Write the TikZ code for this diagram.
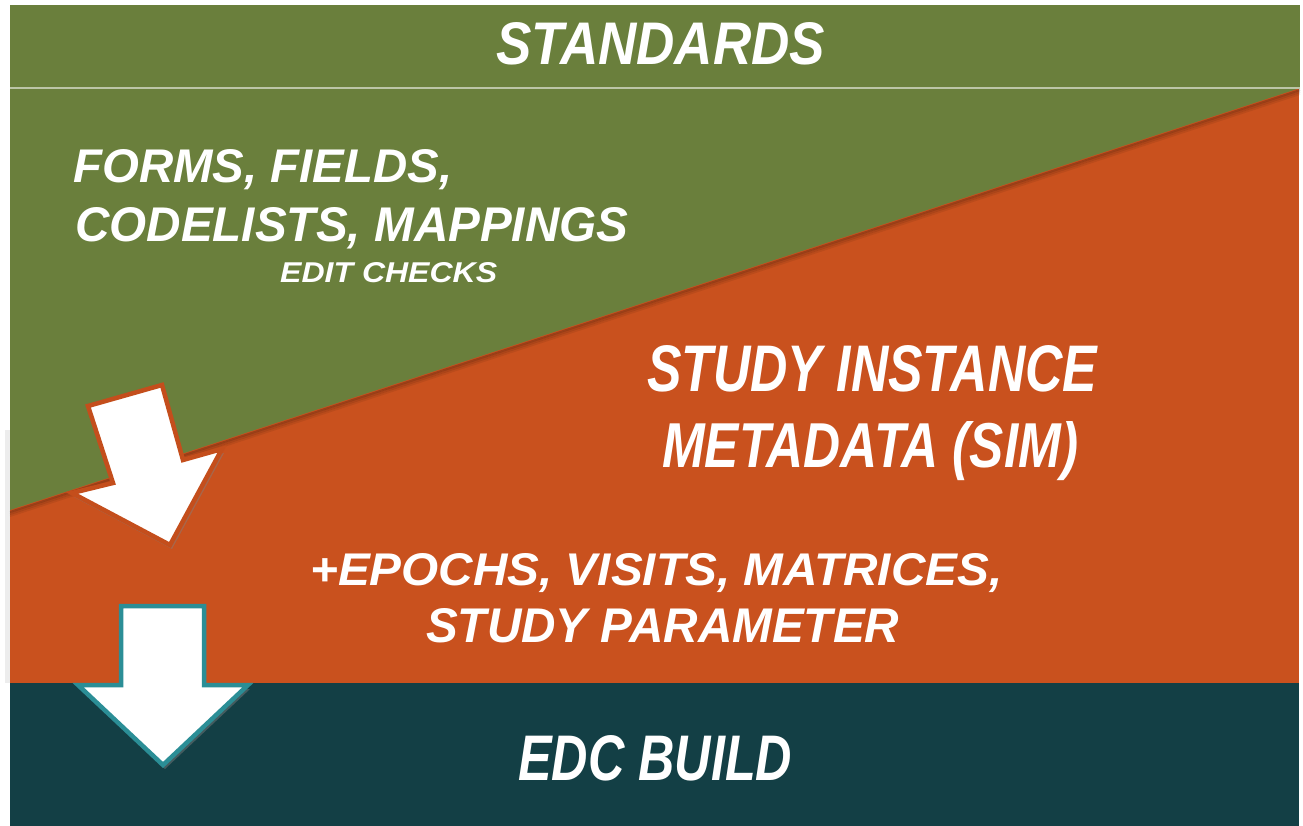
\documentclass[tikz,border=0pt]{standalone}
\usepackage{fontspec}
\setmainfont{Liberation Sans}
\usepackage{graphicx}
\usetikzlibrary{shadows}

\definecolor{stdgreen}{RGB}{106,127,60}
\definecolor{simorange}{RGB}{201,81,30}
\definecolor{edcteal}{RGB}{19,63,69}
\definecolor{arrowteal}{RGB}{43,142,150}
\definecolor{arroworange}{RGB}{196,78,28}

% one line of text, stretched to a given width and cap height
\newcommand{\fitline}[3]{\resizebox{#1pt}{#2pt}{#3}}

\begin{document}
\begin{tikzpicture}[x=1pt,y=-1pt,
    lbl/.style={anchor=base west,inner sep=0pt,text=white,font=\bfseries\itshape},
    bigarrow/.style={fill=white,line width=4.5pt,line join=miter,
      drop shadow={opacity=.45,shadow xshift=2pt,shadow yshift=-4pt}}]
  \useasboundingbox (0,0) rectangle (1303,826);
  % bands
  \fill[black,opacity=.07] (5,430) rectangle (10,683);
  \fill[simorange] (10,88) rectangle (1299,683);
  \fill[edcteal] (10,683) rectangle (1299,826);
  \foreach \d/\o in {2/.22,4/.14,6/.07}
    \draw[black,opacity=\o,line width=2pt] (10,510+\d) -- (1300,88+\d);
  \fill[stdgreen] (10,5) rectangle (1300,88);
  \fill[stdgreen] (10,88) -- (1300,88) -- (10,510) -- cycle;
  \draw[stdgreen!45!white,line width=1.2pt] (10,88) -- (1300,88);

  % arrows
  \draw[bigarrow,draw=arroworange] (88,406) -- (162,385) -- (183,460) -- (222,449)
    -- (170,545) -- (72,493) -- (113,483) -- cycle;
  \draw[bigarrow,draw=arrowteal] (121,606) -- (204,606) -- (204,685) -- (248,685)
    -- (163,765) -- (78,685) -- (121,685) -- cycle;

  % labels
  \node[lbl] (std) at (496,65) {\fitline{329}{42}{STANDARDS}};
  \node[lbl] (forms) at (73,183) {\fitline{379}{33}{FORMS, FIELDS,}};
  \node[lbl] (codes) at (75,242) {\fitline{553}{34}{CODELISTS, MAPPINGS}};
  \node[lbl] (checks) at (280,283) {\fitline{217}{20}{EDIT CHECKS}};
  \node[lbl] (sim1) at (647,391) {\fitline{450}{46}{STUDY INSTANCE}};
  \node[lbl] (sim2) at (662,467) {\fitline{416}{46}{METADATA (SIM)}};
  \node[lbl] (epochs) at (310,585) {\fitline{692}{32}{+EPOCHS, VISITS, MATRICES,}};
  \node[lbl] (param) at (426,642) {\fitline{473}{34}{STUDY PARAMETER}};
  \node[lbl] (edc) at (518,780) {\fitline{274}{45}{EDC BUILD}};
\end{tikzpicture}
\end{document}
